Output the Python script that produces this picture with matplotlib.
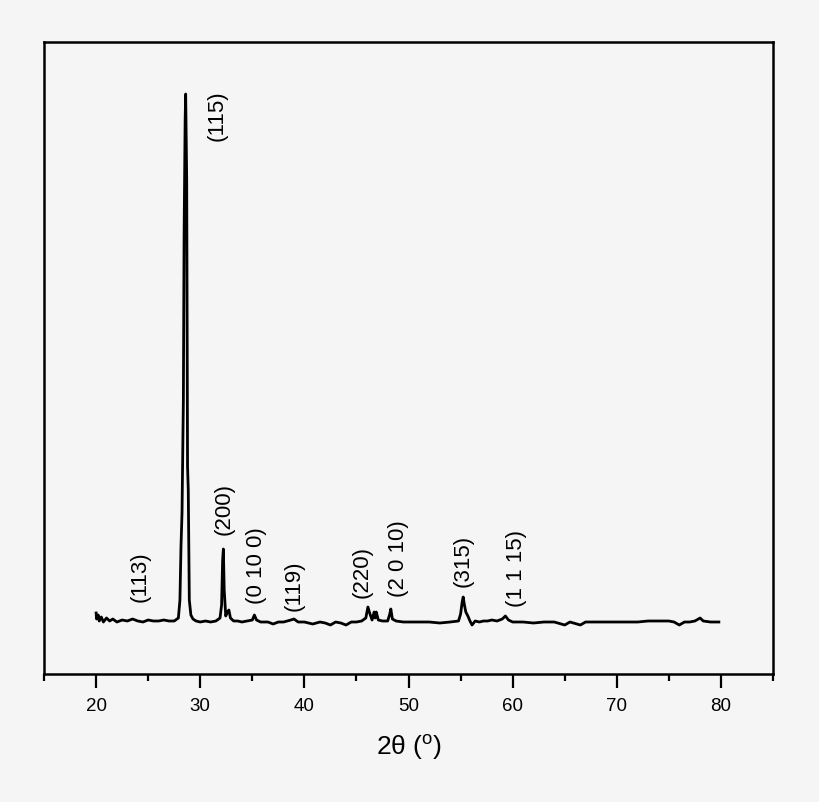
import matplotlib
matplotlib.use("Agg")
import matplotlib.pyplot as plt
from matplotlib.ticker import MultipleLocator

plt.rcParams['font.family'] = ['Liberation Sans', 'DejaVu Sans']
plt.rcParams['mathtext.fontset'] = 'custom'
plt.rcParams['mathtext.rm'] = 'Liberation Sans'

# XRD pattern (counts, arbitrary units)
two_theta = [20.0, 20.05, 20.2, 20.3, 20.5, 20.7, 21.0, 21.3, 21.6, 22.0, 22.5, 23.0,
             23.5, 24.0, 24.5, 25.0, 25.5, 26.0, 26.5, 27.0, 27.5, 27.9, 28.05, 28.15,
             28.25, 28.38, 28.45, 28.55, 28.6, 28.7, 28.78, 28.85, 28.95, 29.1, 29.3, 29.6,
             30.0, 30.5, 31.0, 31.5, 31.9, 32.05, 32.15, 32.22, 32.3, 32.45, 32.6, 32.75,
             32.9, 33.2, 33.6, 34.0, 34.5, 35.0, 35.2, 35.4, 35.8, 36.5, 37.0, 37.5,
             38.0, 38.7, 39.0, 39.4, 40.0, 40.8, 41.5, 42.0, 42.5, 43.0, 43.5, 44.0,
             44.5, 45.0, 45.5, 45.9, 46.1, 46.3, 46.5, 46.7, 46.8, 46.9, 47.1, 47.5,
             48.0, 48.2, 48.3, 48.45, 48.8, 49.5, 50.0, 51.0, 52.0, 53.0, 54.0, 54.8,
             55.0, 55.15, 55.25, 55.35, 55.5, 55.7, 55.9, 56.1, 56.4, 56.8, 57.2, 57.6,
             58.0, 58.5, 59.0, 59.3, 59.6, 60.0, 61.0, 62.0, 63.0, 64.0, 65.0, 65.5,
             66.5, 67.0, 68.0, 69.0, 70.0, 71.0, 72.0, 73.0, 74.0, 75.0, 75.5, 76.0,
             76.5, 77.0, 77.5, 78.0, 78.3, 79.0, 79.8]
intensity = [490, 430, 470, 410, 450, 400, 440, 410, 430, 400, 420, 410,
             430, 410, 400, 420, 410, 410, 420, 410, 410, 440, 620, 1150,
             1490, 2620, 4290, 5420, 5680, 4820, 1960, 1720, 620, 470, 430, 410,
             400, 410, 400, 410, 440, 570, 1020, 1130, 720, 460, 500, 520,
             440, 410, 410, 400, 410, 420, 470, 420, 400, 400, 380, 400,
             400, 420, 430, 400, 400, 380, 400, 390, 370, 400, 390, 370,
             400, 400, 410, 440, 550, 480, 420, 500, 440, 500, 420, 410,
             410, 480, 530, 430, 410, 400, 400, 400, 400, 390, 400, 410,
             480, 600, 650, 580, 500, 460, 410, 370, 410, 400, 410, 410,
             420, 410, 430, 460, 420, 400, 400, 390, 400, 400, 370, 400,
             370, 400, 400, 400, 400, 400, 400, 410, 410, 410, 400, 370,
             400, 400, 410, 440, 410, 400, 400]

# Reflection labels
hkl = ["(113)", "(115)", "(200)", "(0 10 0)", "(119)", "(220)", "(2 0 10)", "(315)", "(1 1 15)"]
hkl_x = [24.2, 31.6, 32.3, 35.4, 39.0, 45.5, 49.0, 55.2, 60.4]
hkl_y = [850, 5460, 1530, 960, 760, 900, 1030, 1010, 940]

bg = '#f5f5f5'
fig = plt.figure(figsize=(8.2, 8.02), dpi=100, facecolor=bg)
ax = fig.add_axes([0.0537, 0.1596, 0.889, 0.788])
ax.set_facecolor(bg)

ax.plot(two_theta, intensity, color='black', lw=2.0)

for lab, x, y in zip(hkl, hkl_x, hkl_y):
    ax.text(x, y, lab, rotation=90, ha='center', va='center', fontsize=16)

ax.set_xlim(15, 85)
ax.set_ylim(-120, 6200)
ax.xaxis.set_major_locator(MultipleLocator(10))
ax.xaxis.set_minor_locator(MultipleLocator(5))
ax.set_yticks([])
ax.tick_params(axis='x', which='major', direction='out', length=10, width=1.6,
               labelsize=13.5, pad=7)
ax.tick_params(axis='x', which='minor', direction='out', length=5, width=1.6)
for s in ax.spines.values():
    s.set_linewidth(1.8)

ax.set_xlabel(r"2θ ($^\mathrm{o}$)", fontsize=19, labelpad=13)

fig.savefig("out.png", dpi=100, facecolor=bg)
